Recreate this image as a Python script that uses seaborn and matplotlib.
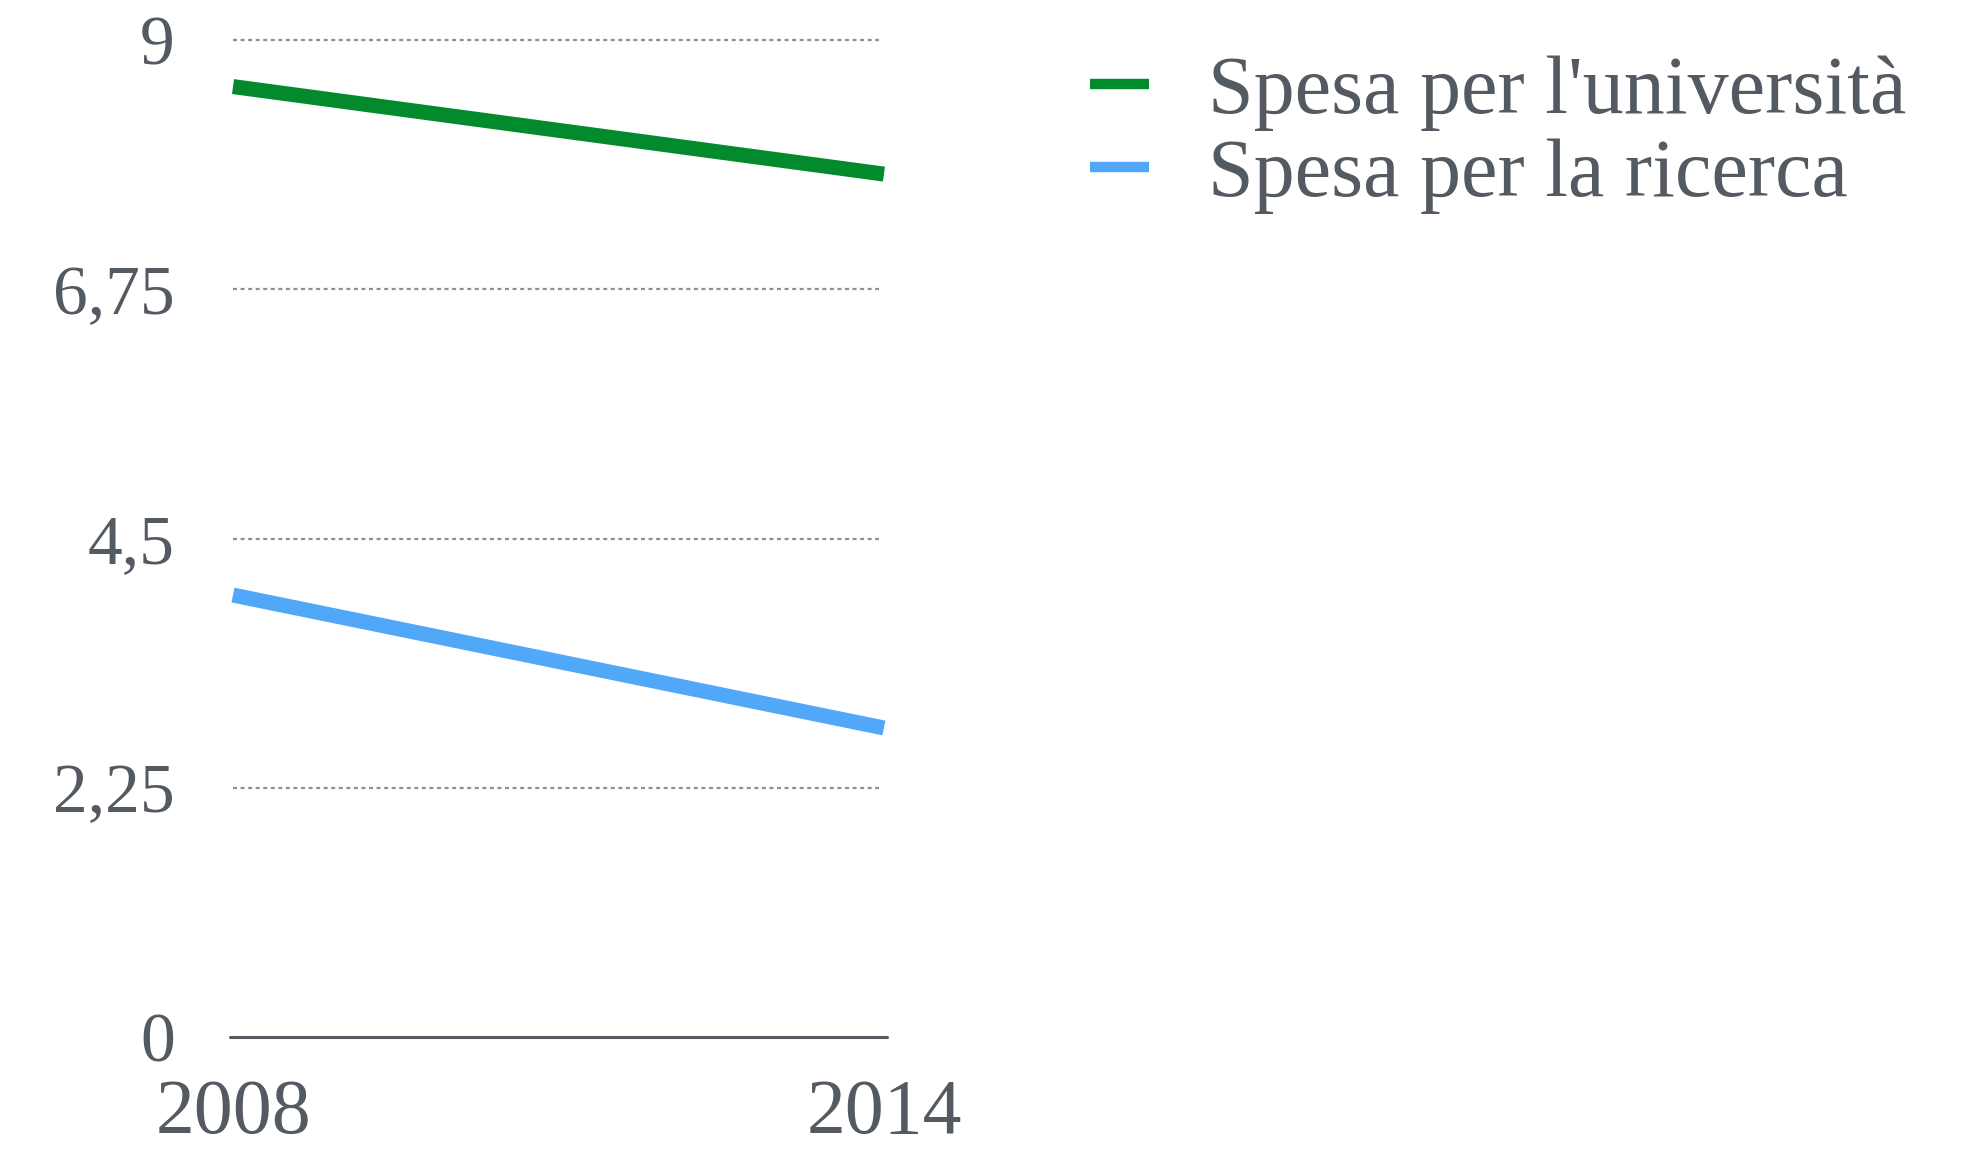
import matplotlib
matplotlib.use("Agg")
import matplotlib.pyplot as plt
import seaborn as sns
import pandas as pd

# Spending data (billions of euro)
years = ["2008", "2014"]
spesa_universita = [8.58, 7.79]
spesa_ricerca = [3.99, 2.79]
series_names = ["Spesa per l'università", "Spesa per la ricerca"]
y_ticks = [0, 2.25, 4.5, 6.75, 9]
y_tick_labels = ["0", "2,25", "4,5", "6,75", "9"]

df = pd.DataFrame({
    "anno": years * 2,
    "valore": spesa_universita + spesa_ricerca,
    "serie": [series_names[0]] * 2 + [series_names[1]] * 2,
})

sns.set_theme(style="white")
plt.rcParams["font.family"] = ["Liberation Serif", "DejaVu Serif"]

text_color = "#545a61"
palette = {series_names[0]: "#038a2c", series_names[1]: "#52a8f8"}

fig = plt.figure(figsize=(19.63, 11.51), dpi=100)
ax = fig.add_axes([0.1187, 0.0990, 0.3316, 0.8662])

sns.lineplot(data=df, x="anno", y="valore", hue="serie", palette=palette,
             linewidth=10.8, ax=ax, legend=False, sort=False)
for ln in ax.lines:
    ln.set_solid_capstyle("butt")
    ln.set_clip_on(False)

ax.set_xlim(0, 1)
ax.set_ylim(0, 9)
ax.set_yticks(y_ticks)
ax.set_yticklabels(y_tick_labels)
ax.set_xlabel("")
ax.set_ylabel("")

for s in ax.spines.values():
    s.set_visible(False)

# dotted horizontal grid, solid baseline at zero
for yv in y_ticks[1:]:
    ax.axhline(yv, color="#8f8f8f", linewidth=1.6, linestyle=(0, (1.8, 1.6)),
               xmin=0, xmax=0.993, clip_on=False, zorder=0)
ax.axhline(0, color="#555a60", linewidth=2.2, xmin=-0.004, xmax=1.004,
           clip_on=False, zorder=1)

ax.tick_params(axis="y", length=0, pad=42, labelsize=50, labelcolor=text_color)
ax.tick_params(axis="x", length=0, pad=30, labelsize=56, labelcolor=text_color)
for lbl in ax.get_yticklabels():
    lbl.set_verticalalignment("center_baseline")

handles = ax.lines[:2]
leg = fig.legend(handles, series_names, loc="upper left",
                 bbox_to_anchor=(0.5555, 0.952), frameon=False,
                 fontsize=59, handlelength=0.72, handletextpad=0.72,
                 labelspacing=0.09, borderaxespad=0, borderpad=0)
for t in leg.get_texts():
    t.set_color(text_color)
for h in leg.legend_handles:
    h.set_linewidth(7.5)

fig.savefig("out.png", dpi=100)
